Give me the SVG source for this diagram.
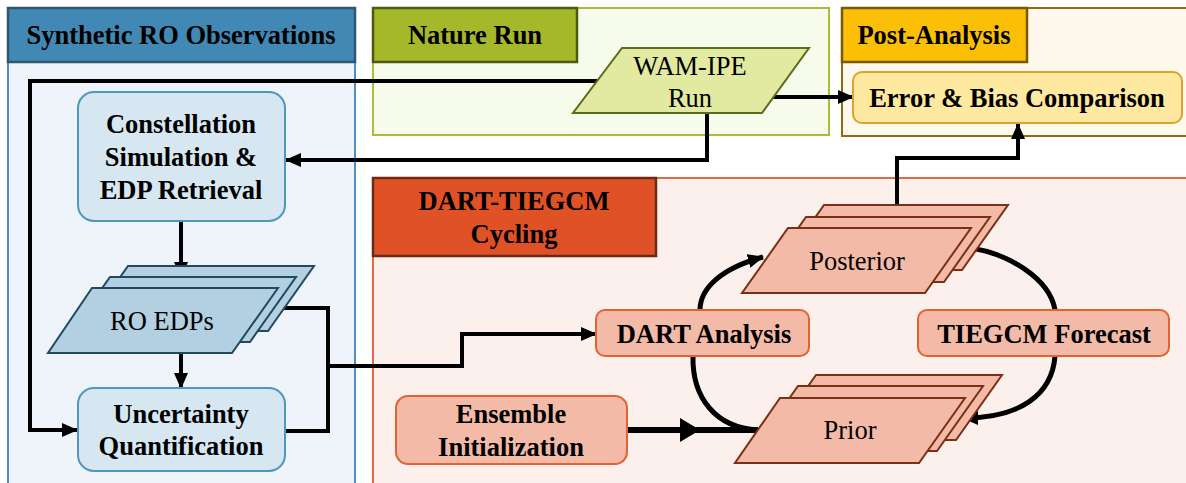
<svg xmlns="http://www.w3.org/2000/svg" width="1186" height="483" viewBox="0 0 1186 483" font-family="Liberation Serif, Times New Roman, serif">
<style>
.b{font-family:'Liberation Serif','Times New Roman',serif;font-weight:bold;font-size:26.5px;fill:#000;text-anchor:middle}
.r{font-family:'Liberation Serif','Times New Roman',serif;font-size:26.5px;fill:#000;text-anchor:middle}
.c{fill:none;stroke:#000;stroke-width:4}
.cv{fill:none;stroke:#000;stroke-width:5}
.bl{fill:#d6e7f1;stroke:#4f96c3;stroke-width:2}
.edp{fill:#b2d0e2;stroke:#22495f;stroke-width:2}
.pk{fill:#f2baa7;stroke:#e3622f;stroke-width:2}
.pp{fill:#f2baa7;stroke:#7b2f14;stroke-width:2}
</style>
<defs>
<marker id="ah" markerUnits="userSpaceOnUse" markerWidth="16" markerHeight="14" refX="15" refY="7" orient="auto"><path d="M0,0 L16,7 L0,14 Z" fill="#000"/></marker>
</defs>

<g id="synthetic-ro">
<rect x="8" y="8" width="347" height="490" fill="#eef4f9" stroke="#4f8fbf" stroke-width="2"/>
<rect x="8" y="8" width="347" height="54" fill="#4189b4" stroke="#2d5670" stroke-width="2.5"/>
<text class="b" x="181" y="44" font-weight="bold" font-size="26.5" text-anchor="middle">Synthetic RO Observations</text>
</g>
<g id="nature-run">
<rect x="373" y="8" width="456" height="127" fill="#f7fbeb" stroke="#a8bf35" stroke-width="2"/>
<rect x="373" y="8" width="204" height="54" fill="#a5b82a" stroke="#4e5a12" stroke-width="2.5"/>
<text class="b" x="475" y="44" font-weight="bold" font-size="26.5" text-anchor="middle">Nature Run</text>
</g>
<g id="post-analysis">
<rect x="842" y="8" width="360" height="128" fill="#fff8ec" stroke="#8f6c10" stroke-width="2"/>
<rect x="842" y="8" width="185" height="54" fill="#fbbf05" stroke="#7a5a00" stroke-width="2.5"/>
<text class="b" x="934" y="44" font-weight="bold" font-size="26.5" text-anchor="middle">Post-Analysis</text>
</g>
<g id="dart-tiegcm">
<rect x="373" y="178" width="830" height="320" fill="#fcf0ec" stroke="#df6a45" stroke-width="2"/>
<rect x="373" y="178" width="283" height="78" fill="#e05226" stroke="#6c2a14" stroke-width="2.5"/>
<text class="b" x="514" y="210" font-weight="bold" font-size="26.5" text-anchor="middle">DART-TIEGCM</text>
<text class="b" x="514" y="243" font-weight="bold" font-size="26.5" text-anchor="middle">Cycling</text>
</g>

<g id="connectors">
<polyline class="c" points="597,81 30,81 30,430 77,430" marker-end="url(#ah)"/>
<polyline class="c" points="707,113 707,160 286,160" marker-end="url(#ah)"/>
<line class="c" x1="773" y1="97" x2="853" y2="97" marker-end="url(#ah)"/>
<line class="c" x1="181" y1="221" x2="181" y2="277" marker-end="url(#ah)"/>
<line class="c" x1="181" y1="353" x2="181" y2="388" marker-end="url(#ah)"/>
<polyline class="c" points="272,308 328,308 328,431 285,431"/>
<polyline class="c" points="328,366 462,366 462,334 596,334" marker-end="url(#ah)"/>
<polyline class="c" points="897,216 897,158 1018,158 1018,124" marker-end="url(#ah)"/>
<line x1="627" y1="430" x2="758" y2="430" stroke="#000" stroke-width="6"/>
<path d="M680,418 L700,430 L680,442 Z" fill="#000"/>
<path class="cv" d="M700,310 C700,288 722,268 763,257" marker-end="url(#ah)"/>
<path class="cv" d="M693,356 C692,398 716,428 758,430"/>
<path class="cv" d="M963,247 C1010,252 1050,280 1055,310"/>
<path class="cv" d="M1055,356 C1052,395 1020,418 963,418" marker-end="url(#ah)"/>
</g>

<g id="constellation">
<rect class="bl" x="78" y="92" width="207" height="129" rx="16"/>
<text class="b" x="181" y="133" font-weight="bold" font-size="26.5" text-anchor="middle">Constellation</text>
<text class="b" x="181" y="166" font-weight="bold" font-size="26.5" text-anchor="middle">Simulation &amp;</text>
<text class="b" x="181" y="199" font-weight="bold" font-size="26.5" text-anchor="middle">EDP Retrieval</text>
</g>
<g id="ro-edps">
<polygon class="edp" points="128,266 314,266 268,331 82,331"/>
<polygon class="edp" points="110,277 296,277 250,342 64,342"/>
<polygon class="edp" points="92,288 278,288 232,353 48,353"/>
<text class="r" x="162" y="330" font-size="26.5" text-anchor="middle">RO EDPs</text>
</g>
<g id="uncertainty">
<rect class="bl" x="78" y="388" width="207" height="83" rx="16"/>
<text class="b" x="181" y="423" font-weight="bold" font-size="26.5" text-anchor="middle">Uncertainty</text>
<text class="b" x="181" y="455" font-weight="bold" font-size="26.5" text-anchor="middle">Quantification</text>
</g>
<g id="wam-ipe">
<polygon points="622,48 809,48 762,113 573,113" fill="#e2eaa2" stroke="#5c6b1c" stroke-width="2"/>
<text class="r" x="690" y="75" font-size="26.5" text-anchor="middle">WAM-IPE</text>
<text class="r" x="690" y="107" font-size="26.5" text-anchor="middle">Run</text>
</g>
<g id="error-bias">
<rect x="853" y="72" width="329" height="51" rx="9" fill="#ffe8a0" stroke="#dba42a" stroke-width="2"/>
<text class="b" x="1017" y="107" font-weight="bold" font-size="26.5" text-anchor="middle">Error &amp; Bias Comparison</text>
</g>
<g id="posterior">
<polygon class="pp" points="824,205 1008,205 962,270 778,270"/>
<polygon class="pp" points="806,217 990,217 944,282 760,282"/>
<polygon class="pp" points="788,228 971,228 925,293 742,293"/>
<text class="r" x="857" y="270" font-size="26.5" text-anchor="middle">Posterior</text>
</g>
<g id="dart-analysis">
<rect class="pk" x="596" y="310" width="213" height="46" rx="9"/>
<text class="b" x="704" y="343" font-weight="bold" font-size="26.5" text-anchor="middle">DART Analysis</text>
</g>
<g id="tiegcm-forecast">
<rect class="pk" x="918" y="310" width="251" height="46" rx="9"/>
<text class="b" x="1044" y="343" font-weight="bold" font-size="26.5" text-anchor="middle">TIEGCM Forecast</text>
</g>
<g id="ensemble-init">
<rect class="pk" x="396" y="396" width="231" height="68" rx="12"/>
<text class="b" x="511" y="423" font-weight="bold" font-size="26.5" text-anchor="middle">Ensemble</text>
<text class="b" x="511" y="456" font-weight="bold" font-size="26.5" text-anchor="middle">Initialization</text>
</g>
<g id="prior">
<polygon class="pp" points="816,375 1002,375 956,440 770,440"/>
<polygon class="pp" points="798,386 983,386 937,451 752,451"/>
<polygon class="pp" points="780,398 965,398 919,463 735,463"/>
<text class="r" x="850" y="439" font-size="26.5" text-anchor="middle">Prior</text>
</g>
</svg>
